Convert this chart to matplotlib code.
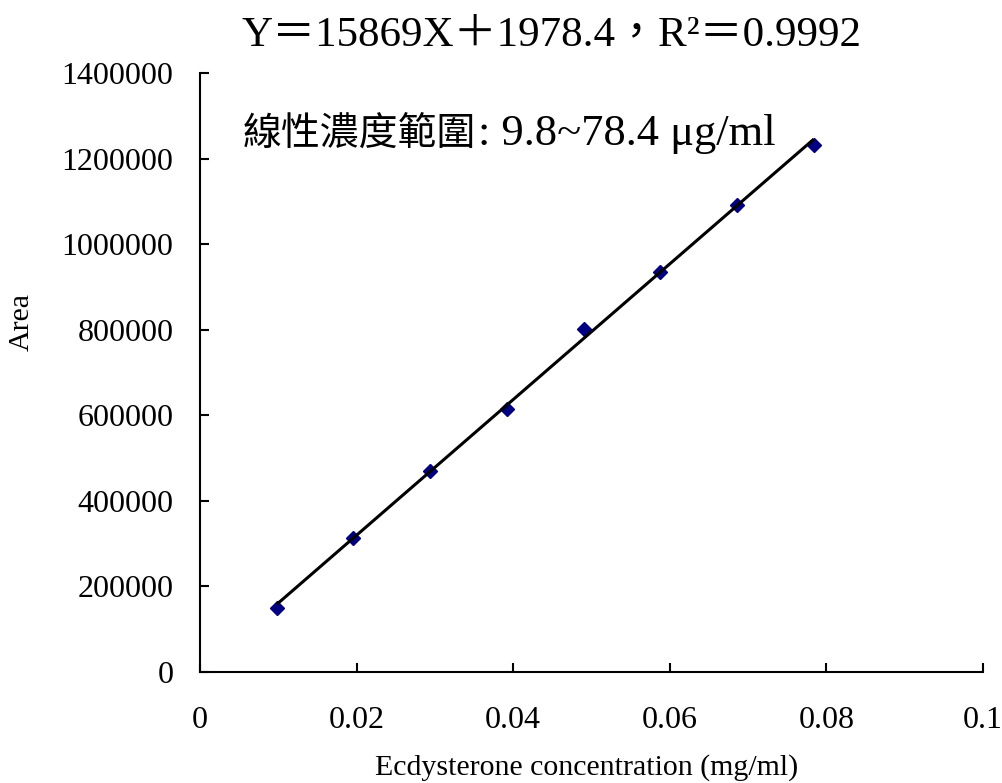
import numpy as np
import matplotlib
matplotlib.use("Agg")
import matplotlib.pyplot as plt

# Calibration data: ecdysterone standard concentrations and peak areas
conc_ug_ml = [9.8, 19.6, 29.4, 39.2, 49.0, 58.8, 68.6, 78.4]
peak_area = [150000, 313500, 470000, 614000, 801000, 935500, 1091000, 1232000]

# Regression reported for the curve (X in ug/ml)
slope = 15869
intercept = 1978.4
r_squared = 0.9992

x_ticks = [0, 0.02, 0.04, 0.06, 0.08, 0.1]
x_tick_labels = ["0", "0.02", "0.04", "0.06", "0.08", "0.1"]
y_ticks = [0, 200000, 400000, 600000, 800000, 1000000, 1200000, 1400000]

serif = ["Liberation Serif", "Noto Sans CJK TC"]
plt.rcParams["font.family"] = serif

conc_mg_ml = np.array(conc_ug_ml) / 1000.0

fig = plt.figure(figsize=(10.03, 7.83), dpi=100)
W, H = 1003, 783
ax = fig.add_axes([200 / W, 1 - 671.7 / H, (983 - 200) / W, (671.7 - 73.3) / H])

# Fitted line over the measured range
fit_x = np.array([conc_mg_ml[0], conc_mg_ml[-1]])
fit_y = slope * fit_x * 1000 + intercept
ax.plot(conc_mg_ml, peak_area, linestyle="none", marker="D", markersize=7.5,
        color="#000080", zorder=2, clip_on=False)
ax.plot(fit_x, fit_y, color="black", linewidth=2.2, zorder=3,
        solid_capstyle="butt")

ax.set_xlim(0, 0.1)
ax.set_ylim(0, 1400000)
ax.set_xticks(x_ticks)
ax.set_xticklabels(x_tick_labels)
ax.set_yticks(y_ticks)
ax.set_yticklabels([str(v) for v in y_ticks])

for side in ("top", "right"):
    ax.spines[side].set_visible(False)
for side in ("left", "bottom"):
    ax.spines[side].set_linewidth(1.5)

ax.tick_params(axis="both", direction="in", length=6.5, width=1.5,
               labelsize=23)
ax.tick_params(axis="x", pad=25)
ax.tick_params(axis="y", pad=19)

fig.text(587 / W, 1 - 768 / H, "Ecdysterone concentration (mg/ml)",
         ha="center", va="center", fontsize=21.5, family=serif)
fig.text(22 / W, 1 - 322 / H, "Area", ha="center", va="center",
         rotation=90, fontsize=21.5, family=serif)

eq = f"Y＝{slope}X＋{intercept}，R²＝{r_squared}"
fig.text(242 / W, 1 - 46 / H, eq, ha="left", va="baseline",
         fontsize=31, family=serif)

# Linear range note: Chinese label followed by the concentration span
label_cjk = fig.text(243 / W, 1 - 145 / H, "線性濃度範圍",
                     ha="left", va="baseline", fontsize=28, family=serif)
renderer = fig.canvas.get_renderer()
bb = label_cjk.get_window_extent(renderer=renderer)
fig.text(bb.x1 / W + 2 / W, 1 - 145 / H, ": 9.8~78.4 μg/ml",
         ha="left", va="baseline", fontsize=32, family=serif)

fig.savefig("out.png", dpi=100)
